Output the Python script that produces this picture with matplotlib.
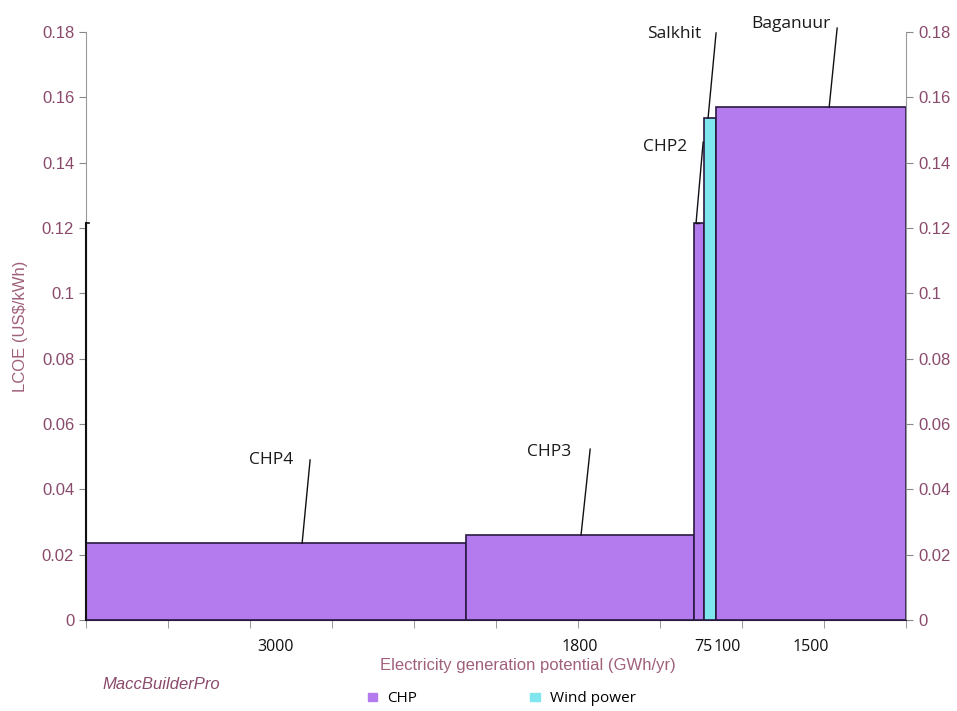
import matplotlib
matplotlib.use('Agg')
import matplotlib.pyplot as plt
from matplotlib.patches import Patch
from matplotlib.transforms import ScaledTranslation

# date
proiecte = ['CHP4', 'CHP3', 'CHP2', 'Salkhit', 'Baganuur']
tehnologie = ['CHP', 'CHP', 'CHP', 'Wind power', 'CHP']
potential = [3000, 1800, 75, 100, 1500]          # GWh/yr
lcoe = [0.0235, 0.026, 0.1215, 0.1537, 0.157]    # US$/kWh
etichete_x = ['3000', '1800', '75', '100', '1500']

# pozitia etichetelor (x, y) si capatul de sus al liniei
text_pos = [(1461, 0.049), (3660, 0.0514), (4572, 0.1448), (4643, 0.1794), (5567, 0.1824)]
linie_sus = [(1769, 0.049), (3980, 0.0523), (4872, 0.1463), (4974, 0.1797), (5930, 0.1812)]
linie_jos_x = [1706, 3908, 4816, 4911, 5867]

CULORI = {'CHP': '#b47bee', 'Wind power': '#7fe6ee'}
MOV = '#8a4a6c'
SANS = ['Open Sans', 'DejaVu Sans']

plt.rcParams['font.family'] = ['Liberation Sans', 'DejaVu Sans']

fig = plt.figure(figsize=(9.57, 7.11), dpi=100)
ax = fig.add_axes([0.0899, 0.128, 0.857, 0.827])

start = 0
centre = []
for p, w, c, t in zip(proiecte, potential, lcoe, tehnologie):
    ax.bar(start, c, width=w, align='edge', color=CULORI[t],
           edgecolor='#2a1a40', linewidth=1.2, zorder=2)
    centre.append(start + w / 2)
    start += w
total = start

for p, tp, ls, lx, c in zip(proiecte, text_pos, linie_sus, linie_jos_x, lcoe):
    ax.plot([ls[0], lx], [ls[1], c], color='#111111', lw=1, zorder=3, clip_on=False)
    ax.text(tp[0], tp[1], p, ha='center', va='center', fontsize=12.5,
            family=SANS, color='#1a1a1a')
# CHP2 are un mic segment orizontal
ax.plot([linie_jos_x[2], centre[2]], [lcoe[2], lcoe[2]], color='#111111', lw=1, zorder=3)

ax.set_xlim(0, total)
ax.set_ylim(0, 0.18)
ax.set_yticks([i * 0.02 for i in range(10)])
ax.set_yticklabels(['0'] + [f'{i * 0.02:g}' for i in range(1, 10)])
ax.tick_params(axis='y', which='both', left=True, right=True, labelleft=True,
               labelright=True, colors='#888888', labelcolor=MOV, labelsize=12,
               length=5, direction='out')

# tick-uri x: 10 intervale egale, etichete la centrul barelor
ax.set_xticks([total * i / 10 for i in range(11)], minor=True)
ax.set_xticks(centre)
ax.set_xticklabels(etichete_x, family=SANS, fontsize=11.5)
ax.tick_params(axis='x', which='major', length=0, pad=14, labelcolor='#111111')
ax.tick_params(axis='x', which='minor', length=6, color='#888888', direction='out')
# 75 si 100 sunt lipite: le impingem putin la dreapta ca in original
for lbl, dx in zip(ax.get_xticklabels()[2:4], (3.5, 12.5)):
    lbl.set_transform(lbl.get_transform() + ScaledTranslation(dx / 72, 0, fig.dpi_scale_trans))

for s in ('left', 'right'):
    ax.spines[s].set_color('#999999')
ax.spines['bottom'].set_color('#2a1a40')
ax.spines['top'].set_visible(False)
# linie neagra pe marginea stanga pana la nivelul CHP2
ax.plot([0, 0], [0, lcoe[2]], color='#111111', lw=1.5, zorder=4, clip_on=False)
ax.plot([0, total * 0.004], [lcoe[2], lcoe[2]], color='#111111', lw=1.2, zorder=4, clip_on=False)

ax.set_xlabel('Electricity generation potential (GWh/yr)', color='#a0607c', fontsize=12)
ax.xaxis.set_label_coords(0.539, -0.064)
ax.set_ylabel('LCOE (US$/kWh)', color='#a0607c', fontsize=12, labelpad=10)

fig.text(0.1066, 0.0366, 'MaccBuilderPro', style='italic', color=MOV, fontsize=12,
         va='center')

handles = [Patch(color=CULORI['CHP'], label='CHP'),
           Patch(color=CULORI['Wind power'], label='Wind power')]
fig.legend(handles=handles, loc='center left', bbox_to_anchor=(0.373, 0.017), ncol=2,
           frameon=False, handlelength=0.6, handleheight=0.5, handletextpad=0.7,
           columnspacing=7.4, borderpad=0.2, prop={'family': SANS, 'size': 11})

fig.savefig('out.png', dpi=100)
